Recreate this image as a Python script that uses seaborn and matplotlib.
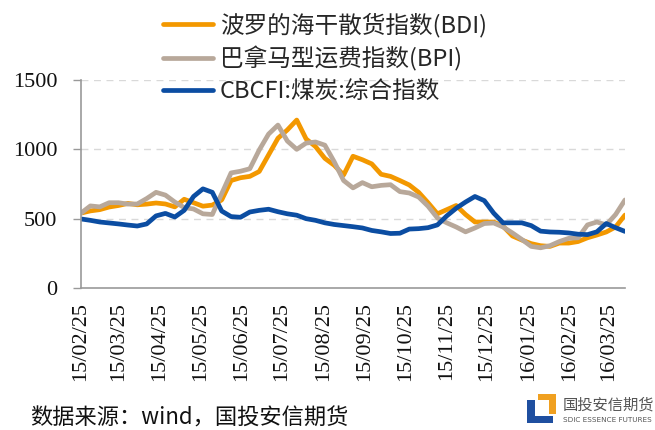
import matplotlib
matplotlib.use("Agg")
import matplotlib.pyplot as plt
import seaborn as sns
import pandas as pd
from matplotlib.patches import Polygon

# ---- data (weekly readings) ----
dates = pd.date_range("2015-02-25", periods=59, freq="7D")
bdi = [540, 556, 565, 584, 595, 610, 600, 605, 613, 606,
       585, 640, 615, 590, 598, 635, 775, 795, 805, 840,
       960, 1080, 1140, 1211, 1075, 1020, 935, 885, 815, 950,
       925, 895, 820, 805, 775, 743, 690, 615, 535, 565,
       595, 530, 476, 476, 476, 445, 375, 346, 320, 305,
       300, 324, 324, 335, 362, 382, 404, 440, 526]
bpi = [540, 592, 585, 615, 615, 605, 606, 645, 690, 670,
       620, 580, 570, 535, 530, 680, 830, 842, 860, 995,
       1110, 1175, 1060, 1000, 1045, 1053, 1030, 910, 775, 722,
       760, 730, 740, 745, 695, 685, 656, 590, 505, 470,
       440, 405, 433, 465, 469, 440, 397, 350, 300, 290,
       305, 335, 358, 362, 455, 476, 455, 530, 635]
cbcfi = [498, 488, 476, 469, 462, 454, 447, 462, 520, 538,
         512, 560, 660, 715, 690, 555, 515, 510, 548, 560,
         568, 550, 535, 525, 500, 488, 470, 458, 450, 442,
         433, 415, 405, 393, 395, 425, 428, 435, 455, 520,
         575, 620, 660, 630, 540, 470, 470, 470, 450, 410,
         404, 402, 397, 388, 385, 405, 465, 435, 408]
names = ["波罗的海干散货指数(BDI)", "巴拿马型运费指数(BPI)", "CBCFI:煤炭:综合指数"]
colors = ["#F39800", "#B8A89A", "#0B4DA2"]
yticks = [0, 500, 1000, 1500]
xtick_dates = pd.date_range("2015-02-25", "2016-03-25", freq=pd.DateOffset(months=1))

sns.set_style("white")
serif = ["Liberation Serif", "DejaVu Serif"]
cjk = ["Noto Sans CJK SC", "DejaVu Sans"]
plt.rcParams["font.family"] = ["Liberation Serif", "Noto Sans CJK SC", "DejaVu Sans"]

W, H = 655, 430
fig = plt.figure(figsize=(W / 100, H / 100), dpi=100)
ax = fig.add_axes([81 / W, 1 - 288 / H, (625 - 81) / W, (288 - 80) / H])

for vals, name, c in zip([bdi, bpi, cbcfi], names, colors):
    df = pd.DataFrame({"date": dates, "value": vals})
    sns.lineplot(data=df, x="date", y="value", ax=ax, color=c, lw=3.4,
                 label=name, legend=False)

ax.set_xlim(dates[0], dates[-1])
ax.set_ylim(0, 1500)
ax.set_yticks(yticks)
ax.set_yticklabels([str(v) for v in yticks])
ax.set_xticks(xtick_dates)
ax.set_xticklabels([d.strftime("%y/%m/%d") for d in xtick_dates], rotation=90)
ax.tick_params(axis="x", length=0, pad=10, labelsize=16,
               labelfontfamily=serif, labelcolor="#111111")
ax.tick_params(axis="y", length=6, width=1, color="#999999", pad=11, left=True,
               labelsize=16, labelfontfamily=serif, labelcolor="#111111")
ax.set_xlabel("")
ax.set_ylabel("")
for v in yticks[1:]:
    ax.axhline(v, color="#D9D9D9", lw=1, ls=(0, (5, 4)), zorder=0)
for s in ["top", "right"]:
    ax.spines[s].set_visible(False)
for s in ["left", "bottom"]:
    ax.spines[s].set_color("#999999")
    ax.spines[s].set_linewidth(1.2)

handles, labels = ax.get_legend_handles_labels()
fig.legend(handles, labels, loc="upper left", bbox_to_anchor=(163 / W, 1 - 13 / H),
           frameon=False, prop={"family": cjk, "size": 17, "style": "italic"},
           handlelength=2.1, handletextpad=0.3, labelspacing=0.36,
           borderpad=0, borderaxespad=0)

fig.text(30 / W, 1 - 418 / H, "数据来源：wind，国投安信期货", fontsize=16,
         va="center", ha="left", color="#111111", family=cjk)

# logo
def px(x, y):
    return (x / W, 1 - y / H)

blue_poly = [px(527, 400), px(535, 400), px(535, 416), px(553, 416),
             px(553, 423), px(527, 423)]
orange_poly = [px(538, 394), px(556, 394), px(556, 414), px(549, 414),
               px(549, 400), px(538, 400)]
fig.patches.append(Polygon(blue_poly, closed=True, transform=fig.transFigure,
                           facecolor="#1F4FA0", edgecolor="none"))
fig.patches.append(Polygon(orange_poly, closed=True, transform=fig.transFigure,
                           facecolor="#F0A020", edgecolor="none"))
fig.text(563 / W, 1 - 405 / H, "国投安信期货", fontsize=11, va="center",
         ha="left", color="#555555", family=cjk)
fig.text(563 / W, 1 - 420 / H, "SDIC ESSENCE FUTURES", fontsize=5.2,
         va="center", ha="left", color="#555555", family="Liberation Sans Narrow")

fig.savefig("out.png", dpi=100)
